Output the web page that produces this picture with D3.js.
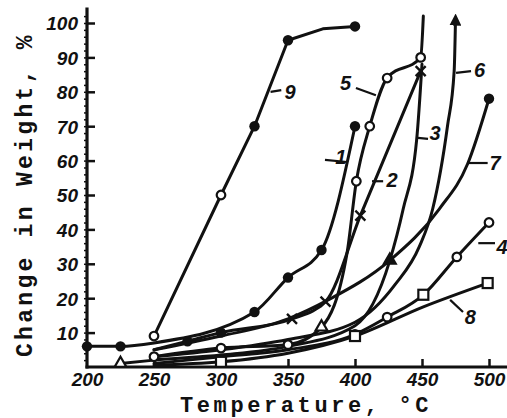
<!DOCTYPE html>
<html><head><meta charset="utf-8">
<script src="https://cdn.jsdelivr.net/npm/d3@7"></script>
<style>
html,body{margin:0;padding:0;background:#fff;}
svg{display:block;}
.tick text{font-family:"Liberation Sans",Arial,sans-serif;font-weight:bold;font-style:italic;font-size:19px;fill:#111;}
</style></head>
<body><svg id="c" width="507" height="418"></svg>
<script>
// ---- data (temperature °C, change in weight %) ----
const xTicks = [200, 250, 300, 350, 400, 450, 500];
const yTicks = [10, 20, 30, 40, 50, 60, 70, 80, 90, 100];
const xLabel = "Temperature, °C";
const yLabel = "Change in Weight, %";

const s1 = [[200,6],[225,6],[250,7],[325,16],[350,26],[375,34],[400,70]];
const s2 = [[250,5],[275,7.5],[300,10],[353,14],[378,19],[404,44],[449,86]];
const s3 = [[225,1],[250,2],[300,3.5],[350,6],[400,12],[426,31],[436,46],[446,66],[450,88]];
const s4 = [[250,1],[300,3],[350,5],[400,9.5],[424,14.5],[451,21],[476,32],[500,42]];
const s5 = [[250,3],[300,5.5],[350,6.5],[375,11.6],[394,33],[401,54],[411,70],[424,84],[449,90],[451,102]];
const s6 = [[250,3],[300,5],[350,8],[400,13],[430,24],[448,35],[458,46],[469,70],[474,86],[475,101]];
const s7 = [[250,5],[300,9],[350,14],[380,19.5],[426,31],[463,46],[484,59],[500,78]];
const s8 = [[250,0.5],[300,1.5],[350,4],[400,9],[451,17.5],[499,24.4]];
const s9 = [[250,9],[300,50],[325,70],[350,95],[376,98.3],[400,99]];
const seriesNames = ["1","2","3","4","5","6","7","8","9"];
const seriesData = [s1,s2,s3,s4,s5,s6,s7,s8,s9];

// curve labels: text anchor and leader line, in data units
const labelText = ["9","5","1","2","3","6","7","4","8"];
const labelAt   = [[351.5,80],[393,82.5],[389.5,61],[427.6,54.4],[459.7,68],[493,86.3],[504.5,59.3],[509.7,34.9],[486,14.5]];
const leaderFrom= [[337,80],[400.7,81.1],[377.6,60.2],[421,54],[454.5,66.3],[486.6,86],[499,59.3],[504.5,36],[480.6,16]];
const leaderTo  = [[345,80.5],[415.6,79],[394,59.6],[412.7,54],[447,66.6],[475.4,85.5],[483.6,59.3],[492,36],[471,19.5]];

// ---- styles (marker per point, kept apart from data) ----
const markerStyle = {
  "1": ["f","f",null,"f","f","f","f"],
  "2": [null,"f","f","x","x","x","x"],
  "3": ["t",null,null,null,null,"tf",null,null,null],
  "4": [null,null,null,"o","o","s","o","o"],
  "5": ["o","o","o","t",null,"o","o","o","o",null],
  "6": [],
  "7": [null,null,null,null,null,null,null,"f"],
  "8": [null,"s",null,"s",null,"s"],
  "9": ["o","o","f","f",null,"f"]
};
const curveStyle = {"9": d3.curveLinear};

const svg = d3.select("#c");
const x = d3.scaleLinear().domain([200,500]).range([87,489]);
const y = d3.scaleLinear().domain([0,100]).range([367,23]);

// axes
const gx = svg.append("g").attr("transform",`translate(0,${y(0)})`)
  .call(d3.axisBottom(x).tickValues(xTicks).tickSize(-8).tickPadding(7).tickFormat(d3.format("d")));
gx.select(".domain").remove();
gx.selectAll(".tick line").attr("stroke","#111").attr("stroke-width",2.5);
gx.selectAll(".tick text").attr("font-size",18).attr("dy","0.62em");
gx.selectAll(".tick").filter(d=>d===200).select("line").remove();

const gy = svg.append("g").attr("transform",`translate(${x(200)},0)`)
  .call(d3.axisLeft(y).tickValues(yTicks).tickSize(-8).tickPadding(9).tickFormat(d3.format("d")));
gy.select(".domain").remove();
gy.selectAll(".tick line").attr("stroke","#111").attr("stroke-width",2.5);
gy.selectAll(".tick text").attr("dy","0.36em");

const gm = svg.append("g").attr("transform",`translate(${x(200)},0)`)
  .call(d3.axisLeft(y).tickValues(d3.range(2,104,2)).tickSize(3).tickFormat(""));
gm.select(".domain").remove();
gm.selectAll(".tick line").attr("stroke","#111").attr("stroke-width",1.5);

svg.append("line").attr("x1",x(200)).attr("x2",x(200)).attr("y1",y(0)+1.5).attr("y2",y(104.5))
  .attr("stroke","#111").attr("stroke-width",3.2);
svg.append("line").attr("x1",x(200)-1.5).attr("x2",507).attr("y1",y(0)).attr("y2",y(0))
  .attr("stroke","#111").attr("stroke-width",3.2);

// axis titles
svg.append("text").attr("x",180).attr("y",412)
  .attr("font-family","'Liberation Mono','DejaVu Sans Mono',monospace").attr("font-weight","bold")
  .attr("font-size",22).attr("letter-spacing",3.6).attr("fill","#111").text(xLabel);
svg.append("text").attr("transform","translate(32,357) rotate(-90)")
  .attr("font-family","'Liberation Mono','DejaVu Sans Mono',monospace").attr("font-weight","bold")
  .attr("font-size",23).attr("letter-spacing",3.3).attr("fill","#111").text(yLabel);

// arrow
svg.append("defs").append("marker").attr("id","arr").attr("viewBox","0 0 10 10")
  .attr("refX",5).attr("refY",5).attr("markerWidth",4).attr("markerHeight",4)
  .attr("orient","auto").attr("markerUnits","strokeWidth")
  .append("path").attr("d","M0,0 L10,5 L0,10 z").attr("fill","#111");

seriesData.forEach((data,i)=>{
  const name = seriesNames[i];
  const line = d3.line().x(d=>x(d[0])).y(d=>y(d[1])).curve(curveStyle[name] || d3.curveMonotoneX);
  const p = svg.append("path").datum(data).attr("d",line)
    .attr("fill","none").attr("stroke","#111").attr("stroke-width",3)
    .attr("stroke-linecap","round").attr("stroke-linejoin","round");
  if(name==="6") p.attr("marker-end","url(#arr)");
});

// markers
seriesData.forEach((data,i)=>{
  const st = markerStyle[seriesNames[i]] || [];
  data.forEach((d,j)=>{
    const m = st[j]; if(!m) return;
    const cx = x(d[0]), cy = y(d[1]);
    const g = svg.append("g").attr("transform",`translate(${cx},${cy})`);
    if(m==="f") g.append("circle").attr("r",5.2).attr("fill","#111");
    else if(m==="o") g.append("circle").attr("r",4.3).attr("fill","#fff").attr("stroke","#111").attr("stroke-width",2.2);
    else if(m==="s") g.append("rect").attr("x",-5).attr("y",-5).attr("width",10).attr("height",10)
      .attr("fill","#fff").attr("stroke","#111").attr("stroke-width",2.2);
    else if(m==="t"||m==="tf") g.append("path").attr("d",d3.symbol(d3.symbolTriangle,60)())
      .attr("fill",m==="tf"?"#111":"#fff").attr("stroke","#111").attr("stroke-width",2.2);
    else if(m==="x") g.append("path").attr("d","M-5,-5L5,5M-5,5L5,-5")
      .attr("stroke","#111").attr("stroke-width",2.4);
  });
});

// curve labels
labelText.forEach((t,i)=>{
  svg.append("line").attr("x1",x(leaderFrom[i][0])).attr("y1",y(leaderFrom[i][1]))
    .attr("x2",x(leaderTo[i][0])).attr("y2",y(leaderTo[i][1]))
    .attr("stroke","#111").attr("stroke-width",2.2);
  svg.append("text").attr("x",x(labelAt[i][0])).attr("y",y(labelAt[i][1]))
    .attr("text-anchor","middle").attr("dy","0.36em")
    .attr("font-family","'Liberation Sans',Arial,sans-serif").attr("font-weight","bold").attr("font-style","italic")
    .attr("font-size",20).attr("fill","#111").text(t);
});
</script></body></html>
